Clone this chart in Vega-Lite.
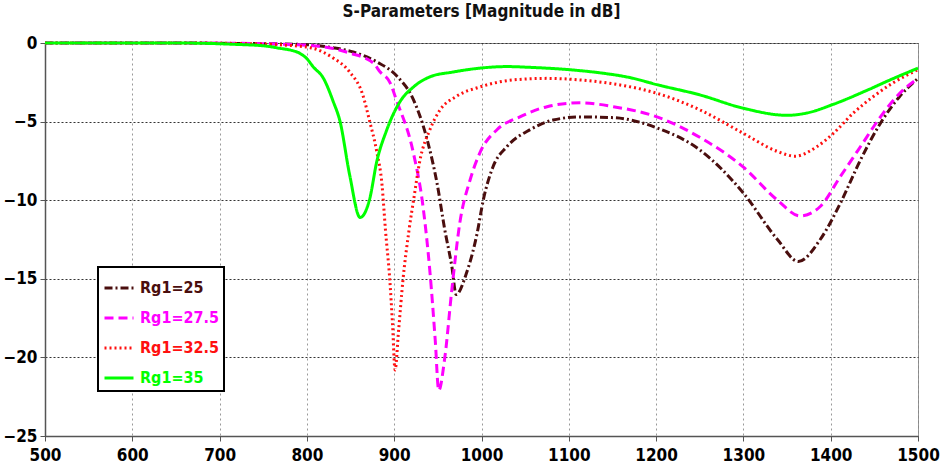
{
  "$schema": "https://vega.github.io/schema/vega-lite/v6.json",
  "width": 873,
  "height": 393,
  "autosize": "none",
  "padding": {"left": 45, "top": 43, "right": 24, "bottom": 39},
  "background": "white",
  "title": {"text": "S-Parameters [Magnitude in dB]", "font": "'DejaVu Sans Condensed', 'DejaVu Sans', sans-serif", "fontSize": 17, "fontWeight": "bold", "color": "#111111", "offset": 13, "anchor": "middle"},
  "config": {
    "view": {"stroke": "#888888", "strokeWidth": 1},
    "axis": {
      "labelFont": "'DejaVu Sans Condensed', 'DejaVu Sans', sans-serif",
      "labelFontSize": 17,
      "labelFontWeight": "bold",
      "labelColor": "#000000",
      "labelFlush": false,
      "labelOverlap": false,
      "tickColor": "#555555",
      "tickSize": 5,
      "domainColor": "#555555",
      "domainWidth": 1.5,
      "grid": true,
      "gridWidth": 1,
      "title": null
    },
    "axisX": {"gridColor": "#999999", "gridDash": [2, 3], "labelPadding": 6},
    "axisY": {"gridColor": "#333333", "gridDash": [2, 2], "labelPadding": 3}
  },
  "data": {
    "values": [
      {"f": 500, "dB": 0, "s": "Rg1=25"},
      {"f": 650, "dB": 0, "s": "Rg1=25"},
      {"f": 720, "dB": -0.03, "s": "Rg1=25"},
      {"f": 773, "dB": -0.06, "s": "Rg1=25"},
      {"f": 804, "dB": -0.12, "s": "Rg1=25"},
      {"f": 830, "dB": -0.3, "s": "Rg1=25"},
      {"f": 853, "dB": -0.57, "s": "Rg1=25"},
      {"f": 880, "dB": -1.2, "s": "Rg1=25"},
      {"f": 903, "dB": -2.1, "s": "Rg1=25"},
      {"f": 922, "dB": -3.6, "s": "Rg1=25"},
      {"f": 938, "dB": -6.2, "s": "Rg1=25"},
      {"f": 949, "dB": -8.9, "s": "Rg1=25"},
      {"f": 958, "dB": -11.9, "s": "Rg1=25"},
      {"f": 966, "dB": -14.2, "s": "Rg1=25"},
      {"f": 971, "dB": -16.0, "s": "Rg1=25"},
      {"f": 983, "dB": -14.6, "s": "Rg1=25"},
      {"f": 995, "dB": -12.1, "s": "Rg1=25"},
      {"f": 1002, "dB": -10.0, "s": "Rg1=25"},
      {"f": 1013, "dB": -7.9, "s": "Rg1=25"},
      {"f": 1029, "dB": -6.6, "s": "Rg1=25"},
      {"f": 1056, "dB": -5.5, "s": "Rg1=25"},
      {"f": 1082, "dB": -4.9, "s": "Rg1=25"},
      {"f": 1113, "dB": -4.7, "s": "Rg1=25"},
      {"f": 1151, "dB": -4.75, "s": "Rg1=25"},
      {"f": 1201, "dB": -5.4, "s": "Rg1=25"},
      {"f": 1250, "dB": -6.8, "s": "Rg1=25"},
      {"f": 1300, "dB": -9.55, "s": "Rg1=25"},
      {"f": 1339, "dB": -12.5, "s": "Rg1=25"},
      {"f": 1363, "dB": -13.9, "s": "Rg1=25"},
      {"f": 1388, "dB": -12.5, "s": "Rg1=25"},
      {"f": 1411, "dB": -10.2, "s": "Rg1=25"},
      {"f": 1434, "dB": -7.45, "s": "Rg1=25"},
      {"f": 1457, "dB": -5.1, "s": "Rg1=25"},
      {"f": 1479, "dB": -3.4, "s": "Rg1=25"},
      {"f": 1500, "dB": -2.25, "s": "Rg1=25"},

      {"f": 500, "dB": 0, "s": "Rg1=27.5"},
      {"f": 650, "dB": 0, "s": "Rg1=27.5"},
      {"f": 720, "dB": -0.02, "s": "Rg1=27.5"},
      {"f": 773, "dB": -0.08, "s": "Rg1=27.5"},
      {"f": 804, "dB": -0.15, "s": "Rg1=27.5"},
      {"f": 830, "dB": -0.35, "s": "Rg1=27.5"},
      {"f": 849, "dB": -0.64, "s": "Rg1=27.5"},
      {"f": 876, "dB": -1.27, "s": "Rg1=27.5"},
      {"f": 884, "dB": -1.85, "s": "Rg1=27.5"},
      {"f": 895, "dB": -2.5, "s": "Rg1=27.5"},
      {"f": 903, "dB": -3.7, "s": "Rg1=27.5"},
      {"f": 922, "dB": -7.0, "s": "Rg1=27.5"},
      {"f": 933, "dB": -10.4, "s": "Rg1=27.5"},
      {"f": 941, "dB": -14.6, "s": "Rg1=27.5"},
      {"f": 947, "dB": -18.9, "s": "Rg1=27.5"},
      {"f": 951, "dB": -22.1, "s": "Rg1=27.5"},
      {"f": 958, "dB": -20.0, "s": "Rg1=27.5"},
      {"f": 966, "dB": -15.7, "s": "Rg1=27.5"},
      {"f": 975, "dB": -11.5, "s": "Rg1=27.5"},
      {"f": 987, "dB": -8.7, "s": "Rg1=27.5"},
      {"f": 998, "dB": -7.0, "s": "Rg1=27.5"},
      {"f": 1018, "dB": -5.5, "s": "Rg1=27.5"},
      {"f": 1044, "dB": -4.7, "s": "Rg1=27.5"},
      {"f": 1075, "dB": -4.05, "s": "Rg1=27.5"},
      {"f": 1113, "dB": -3.8, "s": "Rg1=27.5"},
      {"f": 1151, "dB": -4.05, "s": "Rg1=27.5"},
      {"f": 1201, "dB": -4.7, "s": "Rg1=27.5"},
      {"f": 1250, "dB": -6.0, "s": "Rg1=27.5"},
      {"f": 1300, "dB": -7.9, "s": "Rg1=27.5"},
      {"f": 1339, "dB": -10.0, "s": "Rg1=27.5"},
      {"f": 1365, "dB": -11.0, "s": "Rg1=27.5"},
      {"f": 1388, "dB": -10.4, "s": "Rg1=27.5"},
      {"f": 1411, "dB": -8.5, "s": "Rg1=27.5"},
      {"f": 1434, "dB": -6.6, "s": "Rg1=27.5"},
      {"f": 1457, "dB": -4.7, "s": "Rg1=27.5"},
      {"f": 1479, "dB": -3.2, "s": "Rg1=27.5"},
      {"f": 1500, "dB": -2.25, "s": "Rg1=27.5"},

      {"f": 500, "dB": 0, "s": "Rg1=32.5"},
      {"f": 650, "dB": 0, "s": "Rg1=32.5"},
      {"f": 720, "dB": -0.03, "s": "Rg1=32.5"},
      {"f": 773, "dB": -0.13, "s": "Rg1=32.5"},
      {"f": 804, "dB": -0.3, "s": "Rg1=32.5"},
      {"f": 830, "dB": -0.95, "s": "Rg1=32.5"},
      {"f": 849, "dB": -1.85, "s": "Rg1=32.5"},
      {"f": 864, "dB": -3.3, "s": "Rg1=32.5"},
      {"f": 872, "dB": -5.0, "s": "Rg1=32.5"},
      {"f": 880, "dB": -6.9, "s": "Rg1=32.5"},
      {"f": 886, "dB": -9.0, "s": "Rg1=32.5"},
      {"f": 890, "dB": -11.9, "s": "Rg1=32.5"},
      {"f": 895, "dB": -15.1, "s": "Rg1=32.5"},
      {"f": 898, "dB": -17.8, "s": "Rg1=32.5"},
      {"f": 901, "dB": -20.8, "s": "Rg1=32.5"},
      {"f": 905, "dB": -18.3, "s": "Rg1=32.5"},
      {"f": 910, "dB": -15.1, "s": "Rg1=32.5"},
      {"f": 917, "dB": -11.9, "s": "Rg1=32.5"},
      {"f": 923, "dB": -9.7, "s": "Rg1=32.5"},
      {"f": 929, "dB": -7.6, "s": "Rg1=32.5"},
      {"f": 941, "dB": -5.5, "s": "Rg1=32.5"},
      {"f": 952, "dB": -4.3, "s": "Rg1=32.5"},
      {"f": 971, "dB": -3.4, "s": "Rg1=32.5"},
      {"f": 998, "dB": -2.8, "s": "Rg1=32.5"},
      {"f": 1036, "dB": -2.35, "s": "Rg1=32.5"},
      {"f": 1075, "dB": -2.25, "s": "Rg1=32.5"},
      {"f": 1113, "dB": -2.35, "s": "Rg1=32.5"},
      {"f": 1151, "dB": -2.6, "s": "Rg1=32.5"},
      {"f": 1201, "dB": -3.2, "s": "Rg1=32.5"},
      {"f": 1250, "dB": -4.25, "s": "Rg1=32.5"},
      {"f": 1300, "dB": -5.75, "s": "Rg1=32.5"},
      {"f": 1339, "dB": -6.9, "s": "Rg1=32.5"},
      {"f": 1359, "dB": -7.2, "s": "Rg1=32.5"},
      {"f": 1384, "dB": -6.6, "s": "Rg1=32.5"},
      {"f": 1403, "dB": -5.75, "s": "Rg1=32.5"},
      {"f": 1426, "dB": -4.45, "s": "Rg1=32.5"},
      {"f": 1449, "dB": -3.4, "s": "Rg1=32.5"},
      {"f": 1471, "dB": -2.55, "s": "Rg1=32.5"},
      {"f": 1500, "dB": -1.7, "s": "Rg1=32.5"},

      {"f": 500, "dB": 0, "s": "Rg1=35"},
      {"f": 650, "dB": 0, "s": "Rg1=35"},
      {"f": 715, "dB": -0.08, "s": "Rg1=35"},
      {"f": 754, "dB": -0.2, "s": "Rg1=35"},
      {"f": 769, "dB": -0.34, "s": "Rg1=35"},
      {"f": 781, "dB": -0.45, "s": "Rg1=35"},
      {"f": 792, "dB": -0.66, "s": "Rg1=35"},
      {"f": 800, "dB": -1.0, "s": "Rg1=35"},
      {"f": 807, "dB": -1.5, "s": "Rg1=35"},
      {"f": 819, "dB": -2.25, "s": "Rg1=35"},
      {"f": 830, "dB": -3.7, "s": "Rg1=35"},
      {"f": 838, "dB": -5.0, "s": "Rg1=35"},
      {"f": 849, "dB": -8.4, "s": "Rg1=35"},
      {"f": 861, "dB": -11.1, "s": "Rg1=35"},
      {"f": 872, "dB": -9.9, "s": "Rg1=35"},
      {"f": 880, "dB": -7.55, "s": "Rg1=35"},
      {"f": 891, "dB": -5.6, "s": "Rg1=35"},
      {"f": 907, "dB": -3.7, "s": "Rg1=35"},
      {"f": 922, "dB": -2.8, "s": "Rg1=35"},
      {"f": 941, "dB": -2.15, "s": "Rg1=35"},
      {"f": 967, "dB": -1.85, "s": "Rg1=35"},
      {"f": 998, "dB": -1.6, "s": "Rg1=35"},
      {"f": 1029, "dB": -1.5, "s": "Rg1=35"},
      {"f": 1056, "dB": -1.55, "s": "Rg1=35"},
      {"f": 1101, "dB": -1.7, "s": "Rg1=35"},
      {"f": 1136, "dB": -1.9, "s": "Rg1=35"},
      {"f": 1170, "dB": -2.2, "s": "Rg1=35"},
      {"f": 1201, "dB": -2.65, "s": "Rg1=35"},
      {"f": 1250, "dB": -3.3, "s": "Rg1=35"},
      {"f": 1300, "dB": -4.15, "s": "Rg1=35"},
      {"f": 1350, "dB": -4.6, "s": "Rg1=35"},
      {"f": 1373, "dB": -4.45, "s": "Rg1=35"},
      {"f": 1403, "dB": -3.9, "s": "Rg1=35"},
      {"f": 1442, "dB": -3.0, "s": "Rg1=35"},
      {"f": 1470, "dB": -2.3, "s": "Rg1=35"},
      {"f": 1500, "dB": -1.6, "s": "Rg1=35"}
    ]
  },
  "mark": {"type": "line", "strokeWidth": 3, "interpolate": "monotone"},
  "encoding": {
    "x": {
      "field": "f", "type": "quantitative",
      "scale": {"domain": [500, 1500], "nice": false, "zero": false},
      "axis": {"values": [500, 600, 700, 800, 900, 1000, 1100, 1200, 1300, 1400, 1500], "format": "d"}
    },
    "y": {
      "field": "dB", "type": "quantitative",
      "scale": {"domain": [-25, 0], "nice": false, "zero": false},
      "axis": {"values": [-25, -20, -15, -10, -5, 0], "format": "d"}
    },
    "color": {
      "field": "s", "type": "nominal",
      "scale": {"domain": ["Rg1=25", "Rg1=27.5", "Rg1=32.5", "Rg1=35"], "range": ["#4a0e0e", "#ff00ff", "#ff1010", "#00ff00"]},
      "legend": {
        "title": null, "orient": "none", "legendX": 53, "legendY": 224,
        "symbolType": "stroke", "symbolSize": 841, "symbolStrokeWidth": 3,
        "labelFont": "'DejaVu Sans Condensed', 'DejaVu Sans', sans-serif", "labelFontSize": 16, "labelFontWeight": "bold",
        "padding": 5, "rowPadding": 6, "labelOffset": 5, "labelLimit": 200,
        "strokeColor": "black", "fillColor": "white",
        "encode": {
          "legend": {"update": {"strokeWidth": {"value": 2}}},
          "labels": {"update": {"fill": {"scale": "color", "field": "value"}}}
        }
      }
    },
    "strokeDash": {
      "field": "s", "type": "nominal",
      "scale": {"domain": ["Rg1=25", "Rg1=27.5", "Rg1=32.5", "Rg1=35"], "range": [[8, 3, 2, 3], [9, 5], [2, 3], [1, 0]]},
      "legend": {
        "title": null, "orient": "none", "legendX": 53, "legendY": 224,
        "symbolType": "stroke", "symbolSize": 841, "symbolStrokeWidth": 3,
        "labelFont": "'DejaVu Sans Condensed', 'DejaVu Sans', sans-serif", "labelFontSize": 16, "labelFontWeight": "bold",
        "padding": 5, "rowPadding": 6, "labelOffset": 5, "labelLimit": 200,
        "strokeColor": "black", "fillColor": "white",
        "encode": {
          "legend": {"update": {"strokeWidth": {"value": 2}}},
          "labels": {"update": {"fill": {"scale": "color", "field": "value"}}}
        }
      }
    }
  }
}
